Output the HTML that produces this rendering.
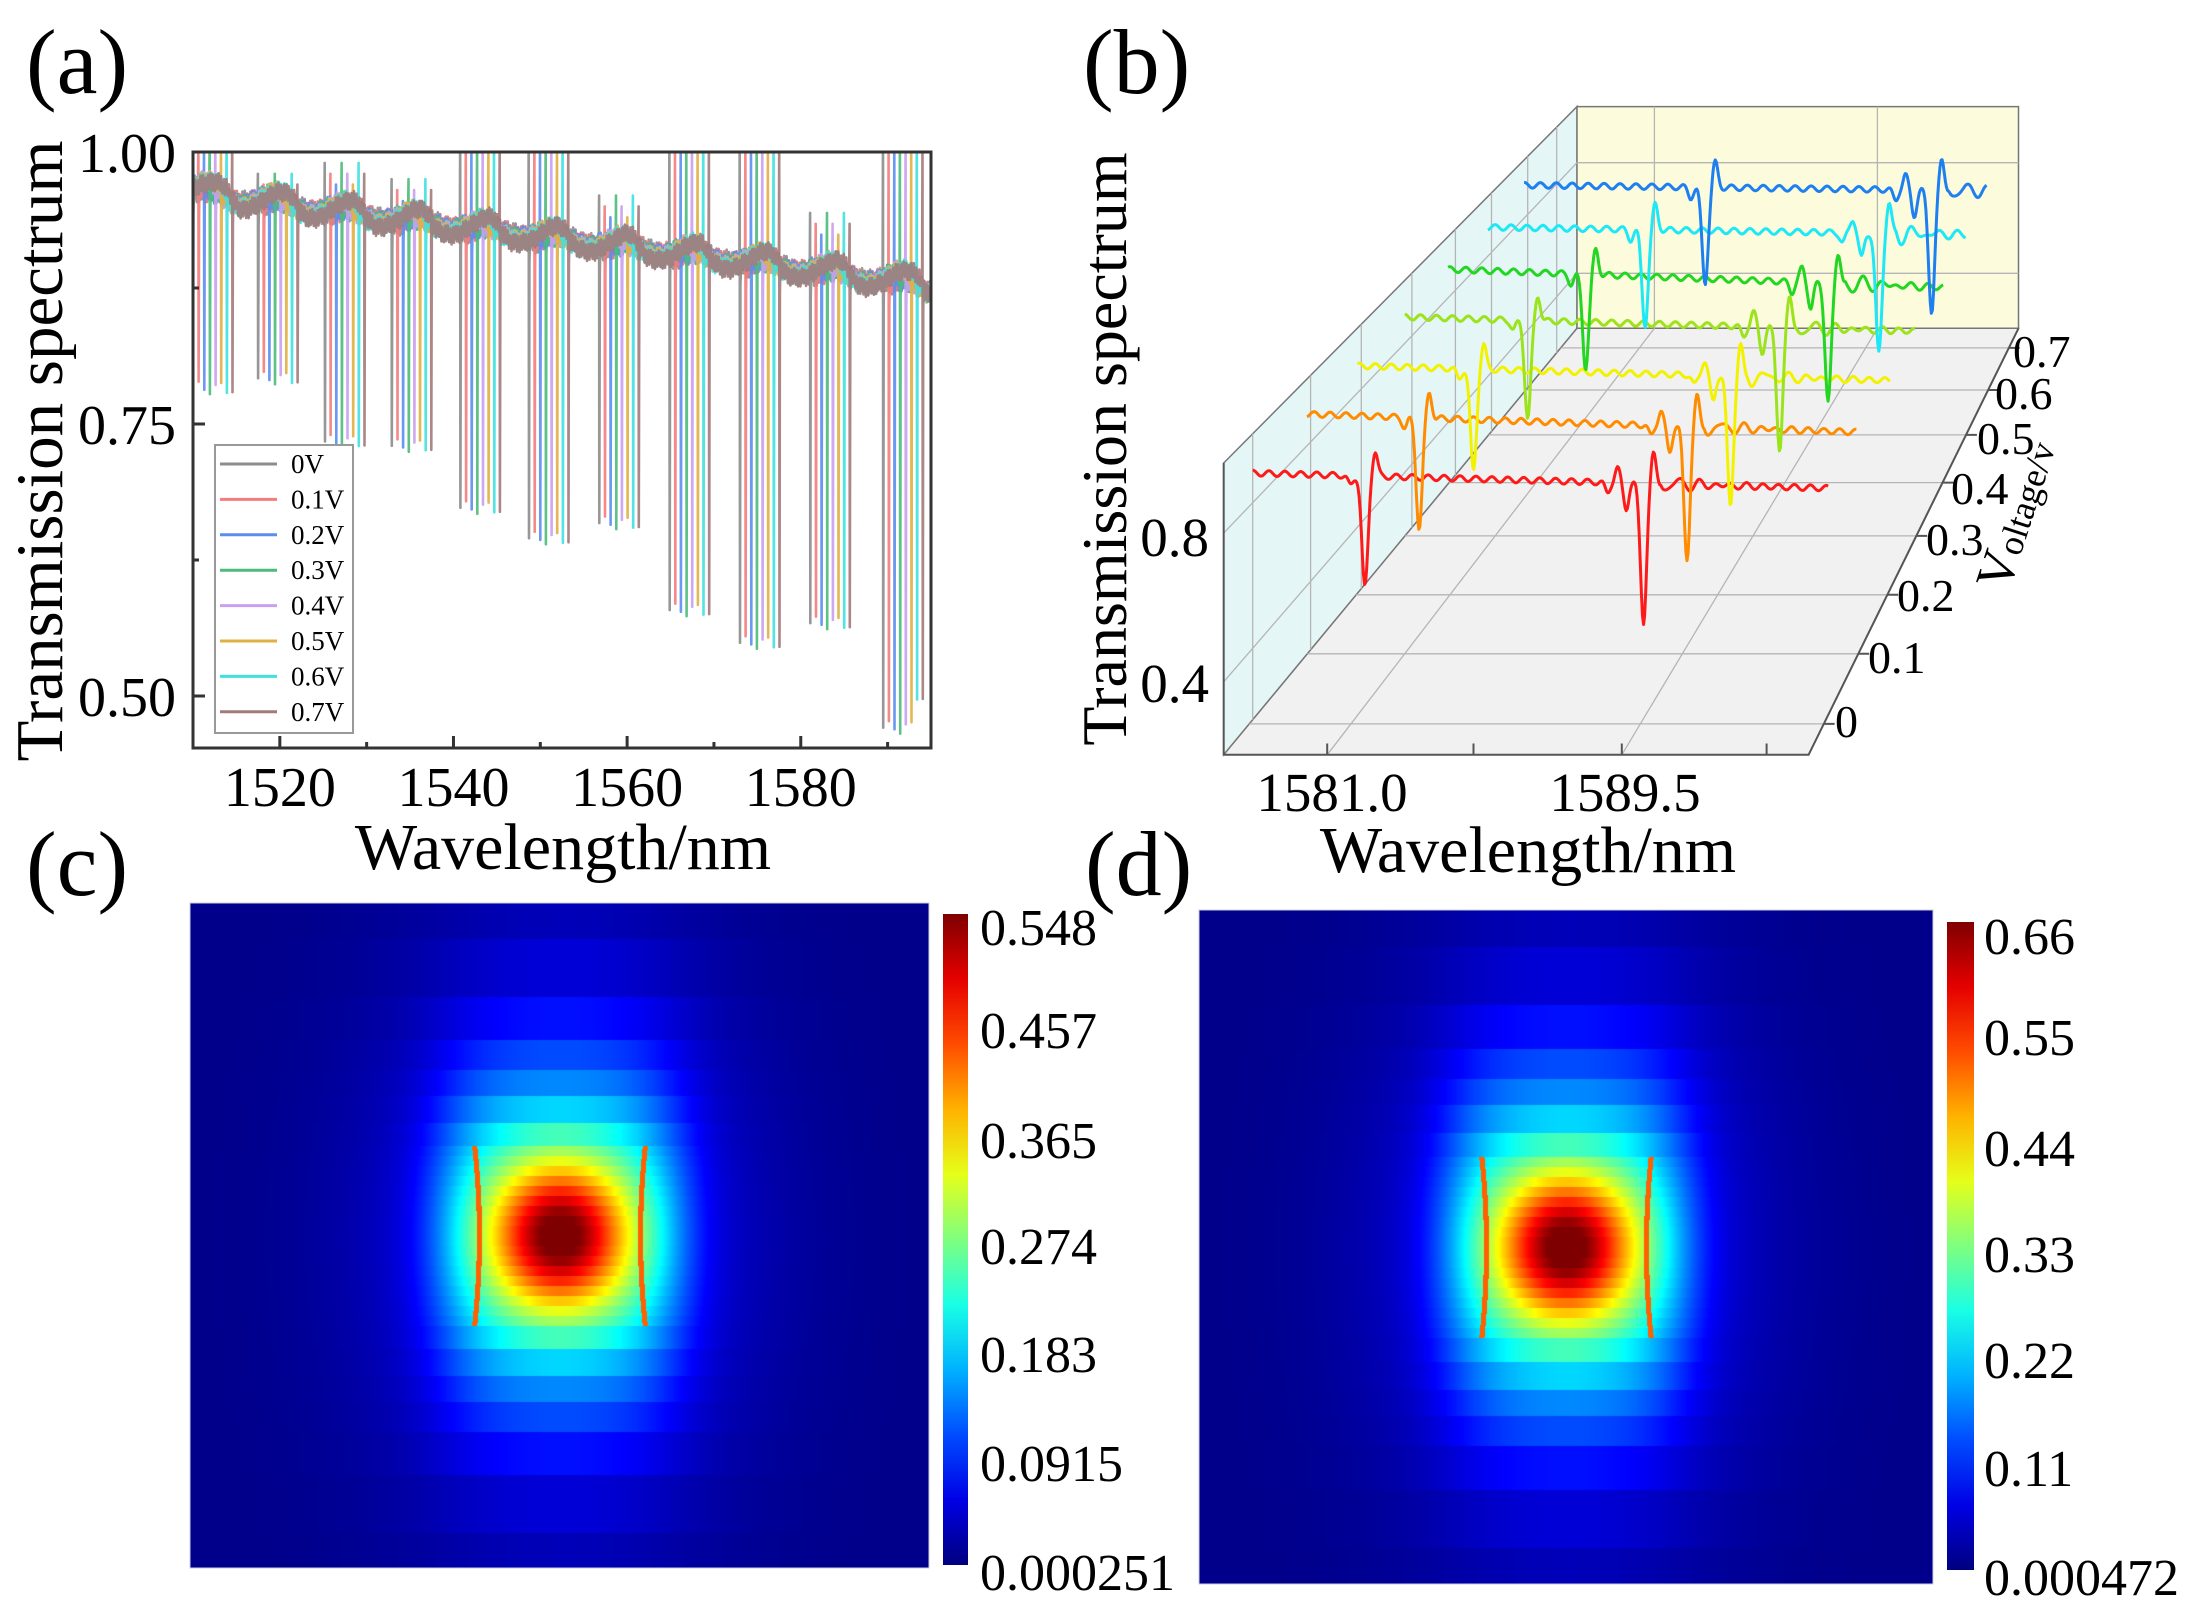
<!DOCTYPE html>
<html><head><meta charset="utf-8">
<style>
html,body{margin:0;padding:0;background:#fff;}
#wrap{position:relative;width:2185px;height:1612px;overflow:hidden;font-family:"Liberation Serif",serif;}
canvas{position:absolute;}
svg{position:absolute;left:0;top:0;}
</style></head>
<body>
<div id="wrap">
<canvas id="cc" width="739" height="665" style="left:190px;top:903px;width:739px;height:665px"></canvas>
<canvas id="cd" width="734" height="674" style="left:1199px;top:910px;width:734px;height:674px"></canvas>
<svg id="sv" width="2185" height="1612" viewBox="0 0 2185 1612" font-family="Liberation Serif, serif"></svg>
</div>
<script>
function jet(t){t=Math.max(0,Math.min(1,t));
 var r=Math.max(0,Math.min(1,Math.min(4*t-1.5,-4*t+4.5)));
 var g=Math.max(0,Math.min(1,Math.min(4*t-0.5,-4*t+3.5)));
 var b=Math.max(0,Math.min(1,Math.min(4*t+0.5,-4*t+2.5)));
 return [r*255|0,g*255|0,b*255|0];}
var bands=[0.893,0.72,0.589,0.499,0.422,0.339,0.27];
function qv(v){var a=Math.abs(v),s=v<0?-1:1;
 if(a>=bands[0])return s*0.95;
 for(var i=0;i<bands.length-1;i++){ if(a>=bands[i+1]) return s*(bands[i]+bands[i+1])/2; }
 return s*(Math.floor(a/0.03)*0.03+0.015);}
function field(u,v){
 var vv=qv(v);
 var C=0.52*Math.exp(-(u/0.17)*(u/0.17)-(vv/0.21)*(vv/0.21));
 var P=0.35*Math.exp(-Math.pow(Math.abs(u)/0.33,4))*Math.exp(-(vv/0.45)*(vv/0.45));
 var H=0.17*Math.exp(-(u/0.45)*(u/0.45)-(vv/0.8)*(vv/0.8));
 var f=C+P+H+0.01;
 var a=Math.abs(vv);
 if(a<0.27){var eu=0.218+0.012*(v/0.26)*(v/0.26); if(Math.abs(Math.abs(u)-eu)<0.007) f=Math.max(f,0.78);}
 return f;}
function draw(id){var c=document.getElementById(id),ctx=c.getContext('2d');
 var W=c.width,H=c.height,img=ctx.createImageData(W,H);
 for(var y=0;y<H;y++){var v=(y-H/2)/(H/2);
  for(var x=0;x<W;x++){var u=(x-W/2)/(W/2);var col=jet(field(u,v));var i=(y*W+x)*4;
   img.data[i]=col[0];img.data[i+1]=col[1];img.data[i+2]=col[2];img.data[i+3]=255;}}
 ctx.putImageData(img,0,0);}
draw('cc');draw('cd');

var s='';
s+='<defs><linearGradient id="jg" x1="0" y1="1" x2="0" y2="0">';
for(var i=0;i<=10;i++){var c=jet(i/10);s+='<stop offset="'+(i/10)+'" stop-color="rgb('+c+')"/>';}
s+='</linearGradient><clipPath id="ca"><rect x="193" y="152" width="738" height="596"/></clipPath></defs>';

// ===== Panel (a) =====
function X(l){return 193+(l-1510)*738/85;}
function Y(t){return 152+(1-t)*1088;}
var cols=['#8c8c8c','#f47c7c','#5b8def','#4cbb7a','#c9a0f0','#e0b040','#3fe0e0','#a37a7a'];
var G=[1510.0,1517.5,1525.2,1532.9,1540.8,1548.7,1556.8,1564.9,1573.0,1581.1,1589.5];
var D=[0.783,0.792,0.734,0.73,0.673,0.645,0.659,0.579,0.549,0.567,0.471];
var Pk=[1.02,0.98,0.99,0.975,1.02,1.02,0.96,1.02,1.02,0.944,1.02];
function base(l,sr){return 0.958-0.075*(l-1510)/85+0.006*Math.sin(2*Math.PI*(l-1510)/8)+0.006*Math.sin(2*Math.PI*l/0.3+sr)+0.003*Math.sin(2*Math.PI*l/0.13+sr*2);}
s+='<g clip-path="url(#ca)" fill="none" stroke-width="2.6" stroke-linejoin="round">';
for(var sr=0;sr<8;sr++){
 var res=[];for(var g=0;g<G.length;g++)res.push([G[g]+sr*0.65,g]);
 var pts=[],ri=0;
 function bgf(l){var bg=0;for(var g2=0;g2<G.length;g2++){var d=(l-(G[g2]+sr*0.65))/1.2;bg+=-0.013*d/(1+d*d);}return bg;}
 for(var l=1509.9;l<=1595.1;l+=0.04){
  while(ri<res.length&&res[ri][0]-0.07<=l){var lr=res[ri][0],g=res[ri][1];
   var dep=D[g]+(sr>5&&g==10?0.03:0)+0.006*Math.sin(sr*1.7);
   pts.push([lr-0.07,base(lr-0.07,sr)+bgf(lr-0.07)]);pts.push([lr-0.03,Pk[g]-0.01*(sr%3)]);pts.push([lr,dep]);pts.push([lr+0.05,base(lr+0.05,sr)+bgf(lr+0.05)-0.02]);
   l=lr+0.09;ri++;}
  pts.push([l,base(l,sr)+bgf(l)]);
 }
 var p='M';for(var j=0;j<pts.length;j++)p+=X(pts[j][0]).toFixed(1)+','+Y(pts[j][1]).toFixed(1)+' ';
 s+='<path d="'+p+'" stroke="'+cols[sr]+'" opacity="0.9"/>';
}
s+='</g>';
s+='<rect x="193" y="152" width="738" height="596" fill="none" stroke="#333" stroke-width="3"/>';
[1520,1540,1560,1580].forEach(function(l){s+='<line x1="'+X(l)+'" y1="748" x2="'+X(l)+'" y2="736" stroke="#333" stroke-width="3"/>';
 s+='<text x="'+X(l)+'" y="806" font-size="56" text-anchor="middle">'+l+'</text>';});
[1530,1550,1570,1590].forEach(function(l){s+='<line x1="'+X(l)+'" y1="748" x2="'+X(l)+'" y2="742" stroke="#333" stroke-width="3"/>';});
[[1,'1.00'],[0.75,'0.75'],[0.5,'0.50']].forEach(function(a){s+='<line x1="193" y1="'+Y(a[0])+'" x2="205" y2="'+Y(a[0])+'" stroke="#333" stroke-width="3"/>';
 s+='<text x="176" y="'+(Y(a[0])+20)+'" font-size="56" text-anchor="end">'+a[1]+'</text>';});
[0.875,0.625].forEach(function(t){s+='<line x1="193" y1="'+Y(t)+'" x2="199" y2="'+Y(t)+'" stroke="#333" stroke-width="3"/>';});
s+='<rect x="215" y="445" width="138" height="288" fill="#fff" stroke="#999" stroke-width="2"/>';
var lab=['0V','0.1V','0.2V','0.3V','0.4V','0.5V','0.6V','0.7V'];
for(var i=0;i<8;i++){var yy=464+i*35.4;s+='<line x1="220" y1="'+yy+'" x2="277" y2="'+yy+'" stroke="'+cols[i]+'" stroke-width="3"/>';
 s+='<text x="291" y="'+(yy+9)+'" font-size="27">'+lab[i]+'</text>';}
s+='<text transform="translate(62,451) rotate(-90)" font-size="67" text-anchor="middle">Transmission spectrum</text>';
s+='<text x="563" y="869" font-size="66" text-anchor="middle">Wavelength/nm</text>';
s+='<text x="26" y="93" font-size="92">(a)</text>';

// ===== Panel (b) =====
function Z(x,y){return [1050+x/1.3815,y/1.782];}
function P(x,y){var q=Z(x,y);return q[0].toFixed(1)+','+q[1].toFixed(1);}
s+='<polygon points="'+P(240,825)+' '+P(728,190)+' '+P(728,585)+' '+P(240,1345)+'" fill="#e5f6f6" stroke="#777" stroke-width="1.5"/>';
s+='<polygon points="'+P(728,190)+' '+P(1338,190)+' '+P(1338,585)+' '+P(728,585)+'" fill="#fcfbdc" stroke="#777" stroke-width="1.5"/>';
s+='<polygon points="'+P(240,1345)+' '+P(1048,1345)+' '+P(1338,585)+' '+P(728,585)+'" fill="#f1f1f1" stroke="#777" stroke-width="1.5"/>';
var gl='';
[835,1143].forEach(function(x){gl+='M'+P(x,190)+' L'+P(x,585)+' ';});
[290,487].forEach(function(y){gl+='M'+P(728,y)+' L'+P(1338,y)+' ';});
gl+='M'+P(240,950)+' L'+P(728,290)+' M'+P(240,1215)+' L'+P(728,487)+' ';
[280,360,430,500,560,610,660,700].forEach(function(x){gl+='M'+P(x,825-1.301*(x-240))+' L'+P(x,1345-1.557*(x-240))+' ';});
gl+='M'+P(383,1345)+' L'+P(835,585)+' M'+P(790,1345)+' L'+P(1143,585)+' ';
[1290,1165,1060,955,860,775,695,620].forEach(function(y){var xl=240+(1345-y)/1.557,xr=1048+(1345-y)*290/760;gl+='M'+P(xl,y)+' L'+P(xr,y)+' ';});
s+='<path d="'+gl+'" stroke="#b5b5b5" stroke-width="1.3" fill="none"/>';
s+='<path d="M'+P(240,1345)+' L'+P(1048,1345)+' L'+P(1338,585)+' M'+P(240,825)+' L'+P(240,1345)+'" stroke="#555" stroke-width="2" fill="none"/>';
var tk='';[383,585,790,990].forEach(function(x){tk+='M'+P(x,1345)+' L'+P(x,1325)+' ';});
[1290,1165,1060,955,860,775,695,620].forEach(function(y){var xr=1048+(1345-y)*290/760;tk+='M'+P(xr,y)+' L'+P(xr+15,y)+' ';});
s+='<path d="'+tk+'" stroke="#555" stroke-width="2" fill="none"/>';
var cb=[['#ff1a1a',280,843,1075,870,435,1048,820,1108],['#ff8c00',355,738,1115,770,510,940,880,995],['#f2f200',425,652,1160,678,585,840,940,900],
['#9be31a',490,565,1195,590,660,745,1008,800],['#22d622',550,480,1235,512,740,655,1075,715],['#1ee8f5',605,405,1265,418,822,580,1145,630],['#1e7ff0',655,330,1295,340,905,505,1218,555]];
cb.forEach(function(c,ci){var p='M';
 for(var x=c[1];x<=c[3];x+=1.5){var t=(x-c[1])/(c[3]-c[1]);var b=c[2]+(c[4]-c[2])*t;
  var y=b+5*Math.sin(2*Math.PI*x/22+ci);
  var d1=x-c[5];y+=(c[6]-b)*Math.exp(-(d1/6)*(d1/6))-45*Math.exp(-((d1-14)/5)*((d1-14)/5))+18*Math.exp(-((d1+20)/5)*((d1+20)/5));
  var d2=x-c[7];y+=(c[8]-b)*Math.exp(-(d2/6)*(d2/6))-55*Math.exp(-((d2-14)/5)*((d2-14)/5))+45*Math.exp(-((d2+24)/5)*((d2+24)/5))-25*Math.exp(-((d2+36)/5)*((d2+36)/5))+18*Math.exp(-((d2+50)/5)*((d2+50)/5));
  if(d2>24)y+=18*Math.sin((d2-24)/5)*Math.exp(-(d2-24)/45);
  p+=P(x,y)+' ';}
 s+='<path d="'+p+'" stroke="'+c[0]+'" stroke-width="3" fill="none" stroke-linejoin="round"/>';});
s+='<text x="1209" y="556" font-size="55" text-anchor="end">0.8</text>';
s+='<text x="1209" y="702" font-size="55" text-anchor="end">0.4</text>';
s+='<text x="1332" y="811" font-size="55" text-anchor="middle">1581.0</text>';
s+='<text x="1625" y="811" font-size="55" text-anchor="middle">1589.5</text>';
[['0',1835,721],['0.1',1868,657],['0.2',1897,595],['0.3',1926,539],['0.4',1951,488],['0.5',1977,438],['0.6',1995,393],['0.7',2013,351]].forEach(function(a){
 s+='<text x="'+a[1]+'" y="'+(a[2]+16)+'" font-size="46">'+a[0]+'</text>';});
s+='<text transform="translate(2032,520) rotate(-72)" font-size="52" text-anchor="middle">V<tspan font-size="36">oltage/v</tspan></text>';
s+='<text transform="translate(1126,449) rotate(-90)" font-size="64" text-anchor="middle">Transmission spectrum</text>';
s+='<text x="1528" y="872" font-size="66" text-anchor="middle">Wavelength/nm</text>';
s+='<text x="1083" y="93" font-size="92">(b)</text>';

// ===== Panels (c),(d) =====
s+='<rect x="190" y="903" width="739" height="665" fill="none" stroke="#ccd" stroke-width="1"/>';
s+='<rect x="1199" y="910" width="734" height="674" fill="none" stroke="#ccd" stroke-width="1"/>';
s+='<rect x="943" y="914" width="25" height="651" fill="url(#jg)"/>';
s+='<rect x="1947" y="922" width="27" height="648" fill="url(#jg)"/>';
[['0.548',927],['0.457',1030],['0.365',1140],['0.274',1246],['0.183',1354],['0.0915',1463],['0.000251',1572]].forEach(function(a){
 s+='<text x="980" y="'+(a[1]+18)+'" font-size="52">'+a[0]+'</text>';});
[['0.66',936],['0.55',1037],['0.44',1148],['0.33',1254],['0.22',1360],['0.11',1468],['0.000472',1577]].forEach(function(a){
 s+='<text x="1984" y="'+(a[1]+18)+'" font-size="52">'+a[0]+'</text>';});
s+='<text x="26" y="895" font-size="92">(c)</text>';
s+='<text x="1085" y="895" font-size="92">(d)</text>';
document.getElementById('sv').innerHTML=s;
</script>
</body></html>
